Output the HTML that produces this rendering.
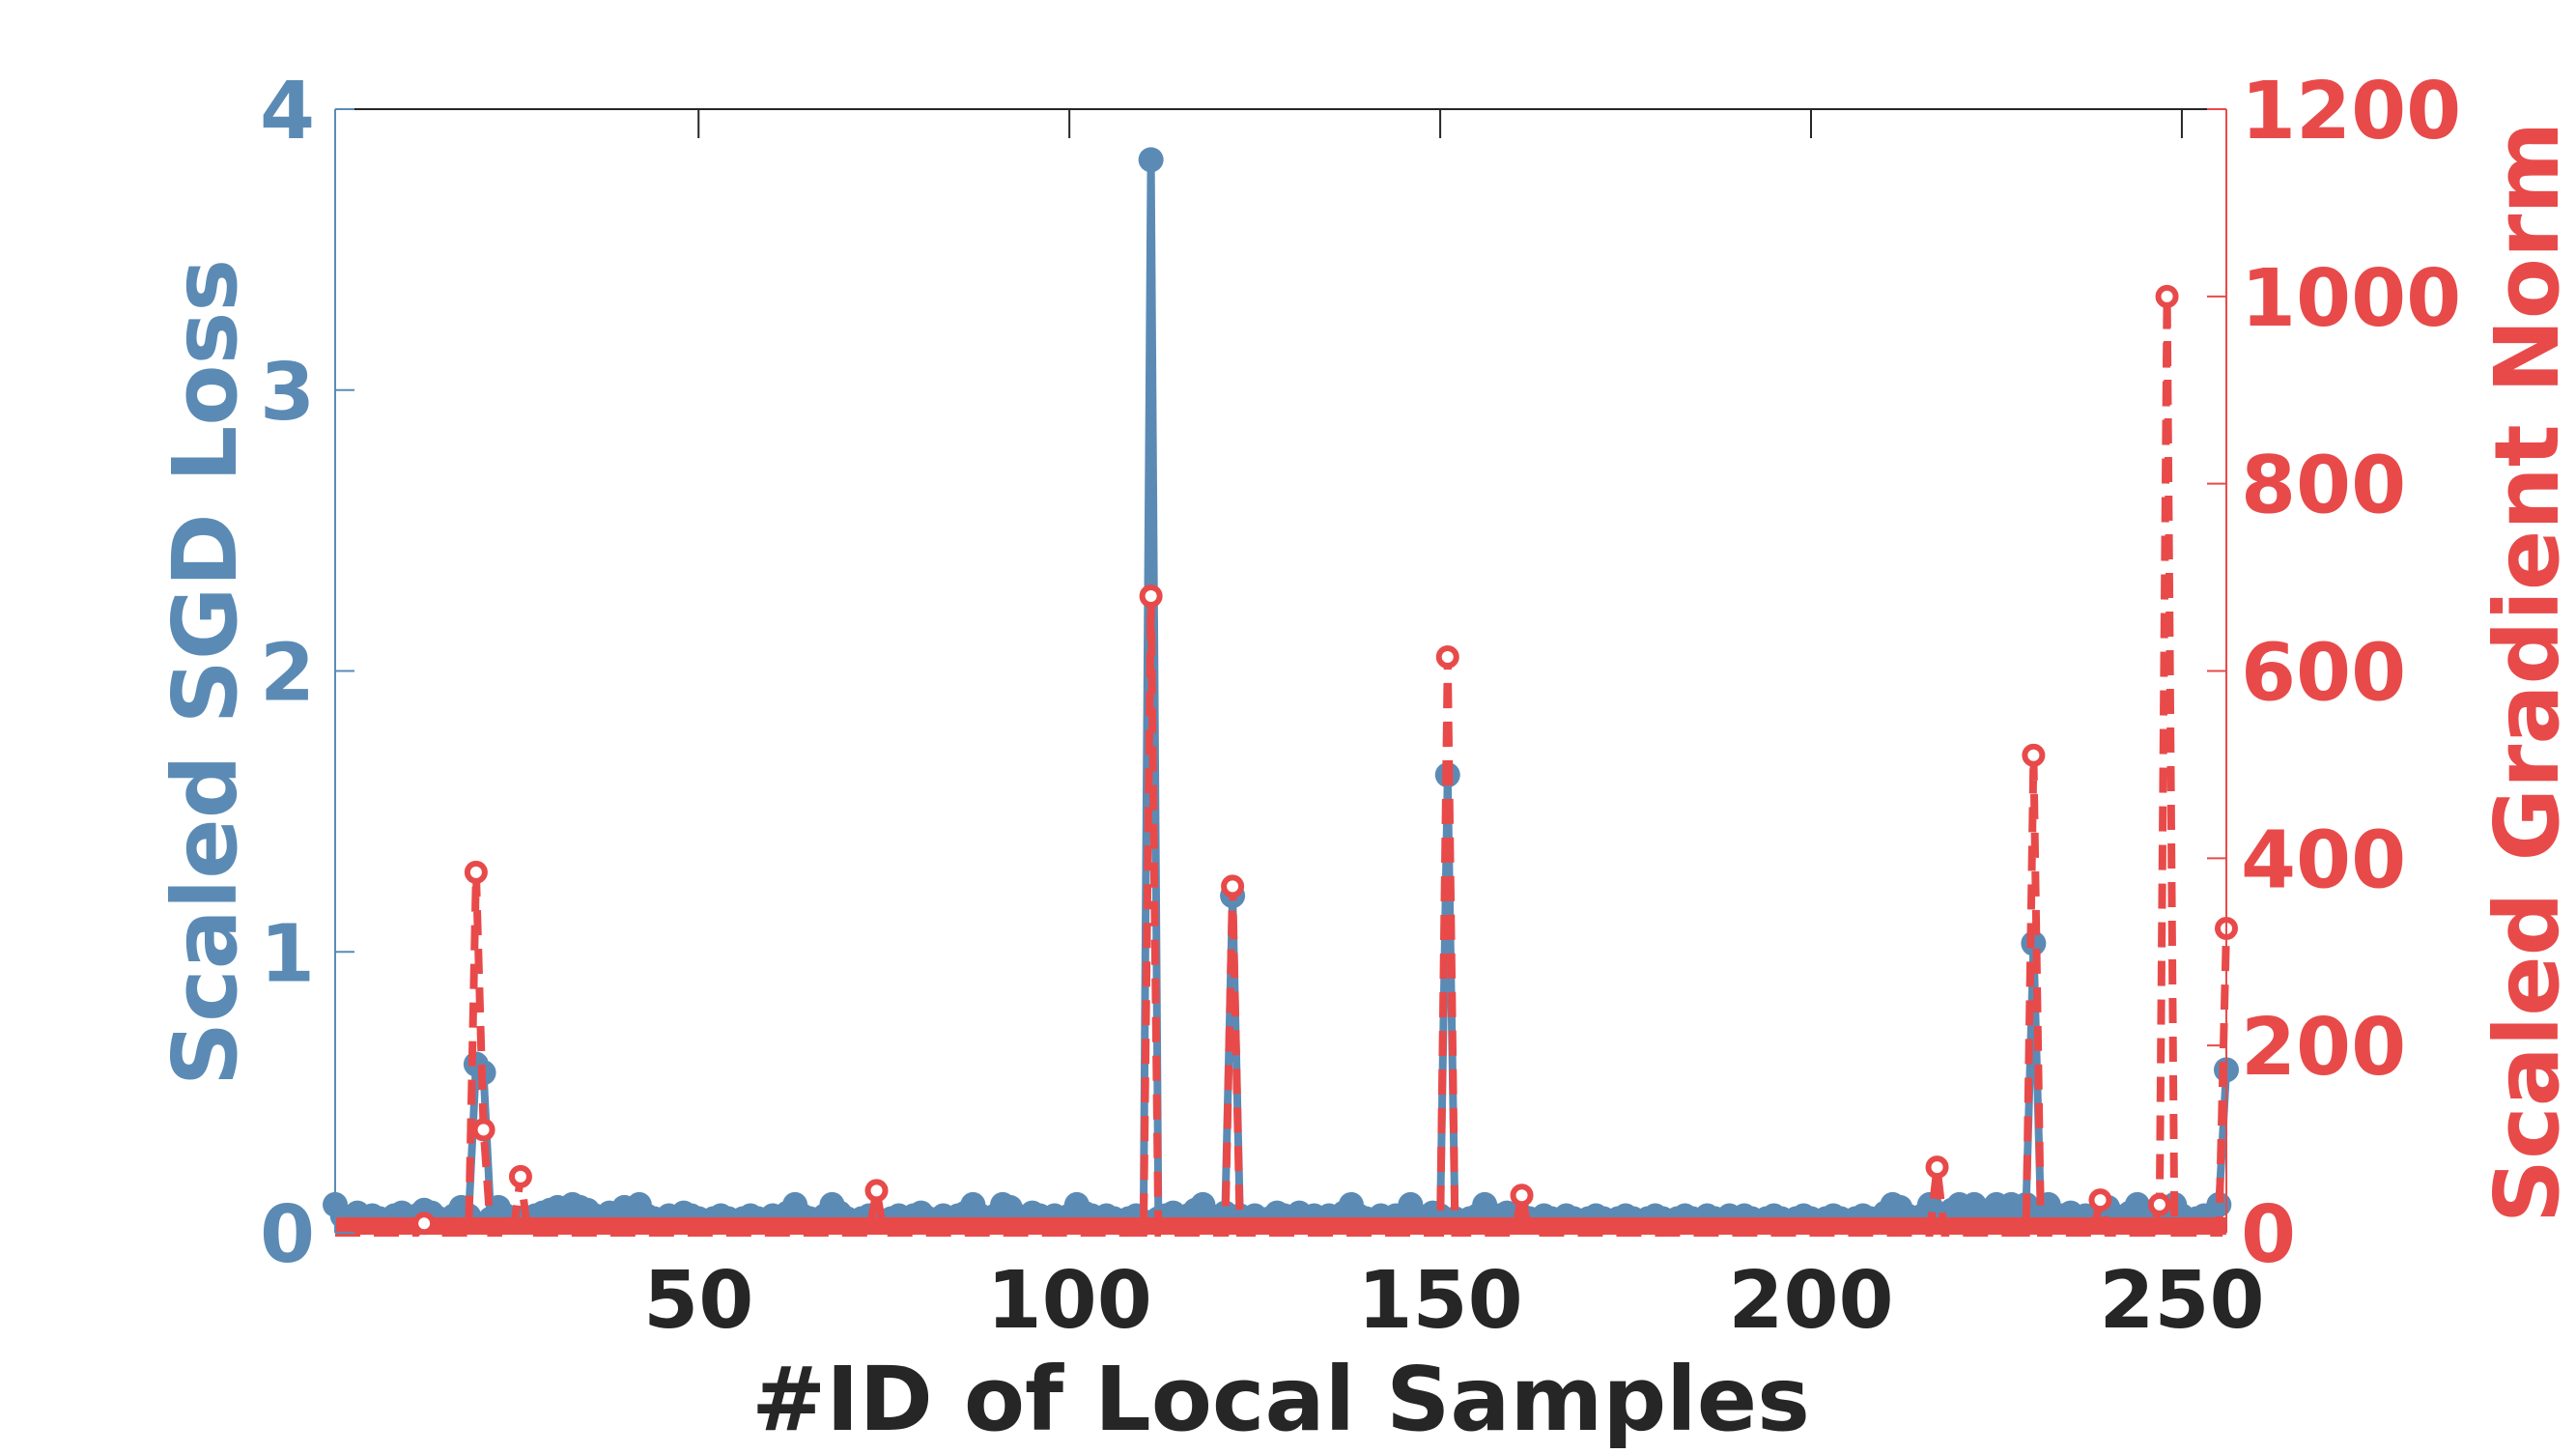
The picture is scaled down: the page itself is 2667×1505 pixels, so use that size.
<!DOCTYPE html>
<html><head><meta charset="utf-8"><style>
html,body{margin:0;padding:0;background:#fff;}
svg text{font-family:"DejaVu Sans","Liberation Sans",sans-serif;font-weight:bold;}
</style></head><body>
<svg id="chart" width="2667" height="1500" viewBox="0 0 2667 1500" xmlns="http://www.w3.org/2000/svg">
<g id="plot"></g>
<g id="axes"></g>
</svg>
<script>
const xTicks=[50,100,150,200,250];
const lossTicks=[0,1,2,3,4];
const gradTicks=[0,200,400,600,800,1000,1200];
const lossValues=[
0.1,0.06,0.05,0.07,0.04,0.06,0.05,0.04,0.06,0.07,0.05,0.06,0.08,0.07,0.05,0.04,
0.06,0.09,0.06,0.6,0.57,0.05,0.09,0.06,0.05,0.05,0.04,0.06,0.07,0.08,0.09,0.07,
0.1,0.09,0.08,0.06,0.05,0.07,0.06,0.09,0.07,0.1,0.06,0.05,0.04,0.06,0.05,0.07,
0.06,0.05,0.04,0.05,0.06,0.05,0.04,0.05,0.06,0.05,0.04,0.06,0.05,0.07,0.1,0.06,
0.05,0.04,0.06,0.1,0.07,0.05,0.04,0.05,0.06,0.05,0.04,0.05,0.06,0.05,0.06,0.07,
0.05,0.04,0.06,0.05,0.06,0.07,0.1,0.06,0.05,0.06,0.1,0.09,0.06,0.05,0.07,0.06,
0.05,0.06,0.05,0.06,0.1,0.07,0.06,0.05,0.06,0.05,0.04,0.05,0.06,0.04,3.82,0.05,
0.06,0.07,0.05,0.06,0.08,0.1,0.06,0.05,0.07,1.2,0.06,0.05,0.06,0.04,0.05,0.07,
0.06,0.05,0.07,0.05,0.06,0.04,0.06,0.05,0.07,0.1,0.06,0.05,0.04,0.06,0.05,0.06,
0.05,0.1,0.06,0.05,0.07,0.06,1.63,0.05,0.04,0.05,0.06,0.1,0.05,0.06,0.07,0.05,
0.06,0.05,0.04,0.06,0.05,0.04,0.06,0.05,0.04,0.05,0.06,0.05,0.04,0.05,0.06,0.05,
0.04,0.05,0.06,0.05,0.04,0.05,0.06,0.05,0.04,0.06,0.05,0.04,0.06,0.05,0.06,0.05,
0.04,0.05,0.06,0.05,0.04,0.05,0.06,0.05,0.04,0.05,0.06,0.05,0.04,0.05,0.06,0.05,
0.04,0.07,0.1,0.09,0.06,0.05,0.06,0.1,0.07,0.06,0.08,0.1,0.09,0.1,0.06,0.08,
0.1,0.09,0.1,0.06,0.1,1.03,0.06,0.1,0.05,0.06,0.07,0.05,0.06,0.04,0.05,0.09,
0.06,0.05,0.07,0.1,0.06,0.05,0.08,0.06,0.1,0.06,0.04,0.05,0.06,0.04,0.1,0.58
];
const gradSpikeIds=[13,20,21,26,74,111,122,151,161,217,230,239,247,248,256];
const gradSpikeValues=[10,385,110,60,45,680,370,615,40,70,510,35,30,1000,325];
const N=lossValues.length;
const L=347,R=2305,T=113,B=1276;
function xs(v){return L+(v-1)*(R-L)/(N-1);}
function yl(v){return B-v/4*(B-T);}
function yg(v){return B-v/1200*(B-T);}
const NS="http://www.w3.org/2000/svg";
function mk(tag,attrs,parent){const e=document.createElementNS(NS,tag);for(const k in attrs)e.setAttribute(k,attrs[k]);parent.appendChild(e);return e;}
const plot=document.getElementById('plot'),axes=document.getElementById('axes');
const BLUE="#5b8bb5",RED="#e84a4a",DARK="#262626";
const grad=[];for(let i=1;i<=N;i++){const k=gradSpikeIds.indexOf(i);grad.push(k>=0?gradSpikeValues[k]:0);}
let d="";lossValues.forEach((v,i)=>{d+=(i?"L":"M")+xs(i+1).toFixed(1)+" "+yl(v).toFixed(1);});
const ll=mk('path',{d:d,fill:"none",stroke:BLUE,"stroke-width":8,"stroke-linejoin":"round"},plot);


lossValues.forEach((v,i)=>{const c=mk('circle',{cx:xs(i+1),cy:yl(v),r:13,fill:BLUE},plot);

});
let d2="";grad.forEach((v,i)=>{d2+=(i?"L":"M")+xs(i+1).toFixed(1)+" "+yg(v).toFixed(1);});
const gl=mk('path',{d:d2,fill:"none",stroke:RED,"stroke-width":8,"stroke-dasharray":"26 14"},plot);


const band=mk('rect',{x:L,y:B-16,width:R-L,height:18,fill:RED},plot);


grad.forEach((v,i)=>{if(v<=0)return;const c=mk('circle',{cx:xs(i+1),cy:yg(v),r:9,fill:"#fff",stroke:RED,"stroke-width":6},plot);

});
mk('line',{x1:L,y1:T,x2:R,y2:T,stroke:DARK,"stroke-width":2},axes);
mk('line',{x1:L,y1:T,x2:L,y2:B,stroke:BLUE,"stroke-width":2},axes);
mk('line',{x1:R,y1:T,x2:R,y2:B,stroke:RED,"stroke-width":2},axes);
xTicks.forEach(v=>{const x=xs(v);
mk('line',{x1:x,y1:T,x2:x,y2:T+30,stroke:DARK,"stroke-width":2},axes);
const t=mk('text',{x:x,y:1374,"font-size":82,fill:DARK,"text-anchor":"middle"},axes);t.textContent=v;

});
lossTicks.forEach(v=>{const y=yl(v);
mk('line',{x1:L,y1:y,x2:L+20,y2:y,stroke:BLUE,"stroke-width":2},axes);
const t=mk('text',{x:326,y:y+30,"font-size":82,fill:BLUE,"text-anchor":"end"},axes);t.textContent=v;

});
gradTicks.forEach(v=>{const y=yg(v);
mk('line',{x1:R-20,y1:y,x2:R,y2:y,stroke:RED,"stroke-width":2},axes);
const t=mk('text',{x:2320,y:y+30,"font-size":82,fill:RED,"text-anchor":"start"},axes);t.textContent=v;

});
let t=mk('text',{x:(L+R)/2,y:1480,"font-size":92,fill:DARK,"text-anchor":"middle"},axes);t.textContent="#ID of Local Samples";


t=mk('text',{x:0,y:0,"font-size":92,fill:BLUE,"text-anchor":"middle",transform:"translate(244,696) rotate(-90)"},axes);t.textContent="Scaled SGD Loss";


t=mk('text',{x:0,y:0,"font-size":92,fill:RED,"text-anchor":"middle",transform:"translate(2648,696) rotate(-90)"},axes);t.textContent="Scaled Gradient Norm";


</script>
</body></html>
